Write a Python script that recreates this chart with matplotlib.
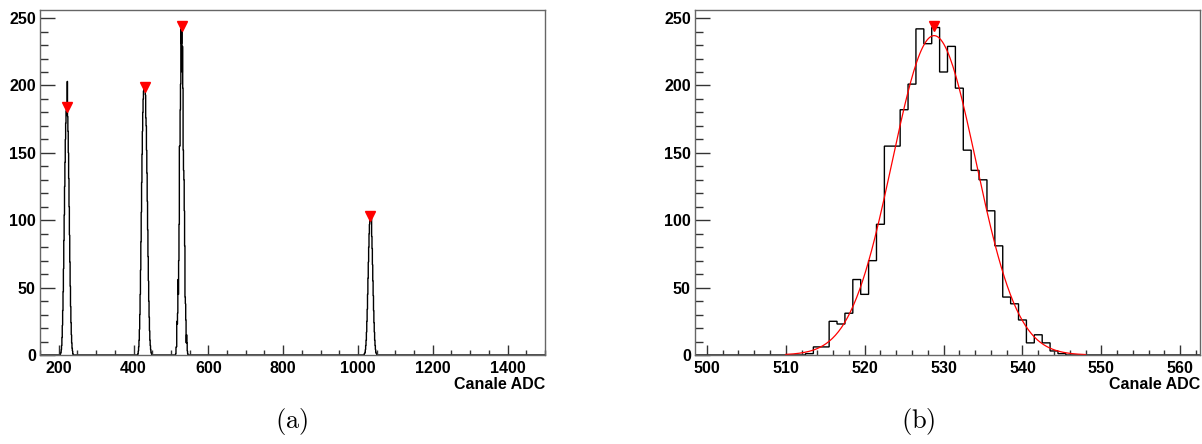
import numpy as np
import matplotlib.pyplot as plt
from matplotlib.ticker import MultipleLocator

plt.rcParams['font.family'] = ['Liberation Sans', 'DejaVu Sans']
plt.rcParams['mathtext.fontset'] = 'cm'

# spettro completo, canali da 1 ADC
spec_first = 150
spec_last = 1500

# picco 1
peak1_start = 205
peak1_counts = [1, 2, 4, 7, 13, 22, 33, 47, 64, 85, 104, 125, 143, 160, 172, 181,
                184, 178, 203, 177, 166, 150, 131, 110, 89, 69, 51, 36, 24, 15,
                9, 5, 3, 1]

# picco 2
peak2_start = 412
peak2_counts = [1, 3, 6, 11, 19, 30, 45, 63, 84, 106, 128, 149, 166, 180, 190,
                196, 199, 201, 198, 201, 193, 176, 170, 152, 135, 114, 93, 73,
                55, 40, 28, 18, 11, 7, 4, 2, 1]

# picco 3 (quello ingrandito in (b))
peak3_start = 513
peak3_counts = [1, 6, 6, 25, 23, 31, 56, 45, 70, 97, 155, 155, 182, 201, 242,
                231, 243, 210, 229, 198, 152, 137, 130, 107, 81, 43, 38, 26, 9,
                15, 9, 3, 1]

# picco 4
peak4_start = 1017
peak4_counts = [1, 1, 2, 4, 7, 11, 17, 25, 34, 45, 57, 69, 80, 90, 97, 101, 104,
                103, 99, 102, 88, 79, 67, 55, 44, 33, 24, 17, 11, 7, 4, 2, 1, 1]

# picchi trovati (TSpectrum)
peaks_x = [221, 430.5, 528.8, 1033]
peaks_y = [184, 199, 244, 103]
peak_zoom_x = [528.85]
peak_zoom_y = [244]

# fit gaussiano sul picco 3
fit_amp = 237
fit_mean = 528.8
fit_sigma = 5.3
fit_lo = 510
fit_hi = 548

counts = np.zeros(spec_last - spec_first + 1)
for start, vals in [(peak1_start, peak1_counts), (peak2_start, peak2_counts),
                    (peak3_start, peak3_counts), (peak4_start, peak4_counts)]:
    i = start - spec_first
    counts[i:i + len(vals)] = vals
edges = np.arange(spec_first - 0.5, spec_last + 1.0, 1.0)

W, H = 1202, 444
fig = plt.figure(figsize=(W / 100, H / 100), dpi=100)
ax1 = fig.add_axes([40 / W, 89 / H, 505 / W, 345 / H])
ax2 = fig.add_axes([695 / W, 89 / H, 505 / W, 345 / H])


def style(ax):
    for s in ax.spines.values():
        s.set_color('#666666')
        s.set_linewidth(1.0)
    ax.tick_params(which='both', direction='in', top=False, right=False,
                   colors='#333333', labelcolor='black', labelsize=11.5)
    ax.tick_params(axis='x', which='major', length=7.5, width=1, pad=4)
    ax.tick_params(axis='x', which='minor', length=3.75, width=1)
    ax.tick_params(axis='y', which='major', length=10.8, width=1, pad=3)
    ax.tick_params(axis='y', which='minor', length=5.4, width=1)
    for lab in ax.get_xticklabels() + ax.get_yticklabels():
        lab.set_fontweight('bold')
    ax.yaxis.set_major_locator(MultipleLocator(50))
    ax.yaxis.set_minor_locator(MultipleLocator(10))
    ax.set_ylim(0, 256)
    ax.set_xlabel('Canale ADC', loc='right', fontsize=11.5, fontweight='bold',
                  labelpad=1)


# (a) spettro completo
ax1.stairs(counts, edges, color='black', lw=1.0)
ax1.plot(peaks_x, peaks_y, 'v', color='red', markersize=6.5, clip_on=False)
ax1.set_xlim(spec_first, spec_last)
ax1.xaxis.set_major_locator(MultipleLocator(200))
ax1.xaxis.set_minor_locator(MultipleLocator(50))
style(ax1)

# (b) ingrandimento + fit
ax2.stairs(counts, edges, color='black', lw=1.0)
xf = np.linspace(fit_lo, fit_hi, 200)
ax2.plot(xf, fit_amp * np.exp(-0.5 * ((xf - fit_mean) / fit_sigma) ** 2),
         color='red', lw=0.9)
ax2.plot(peak_zoom_x, peak_zoom_y, 'v', color='red', markersize=6.5,
         clip_on=False)
ax2.set_xlim(498.5, 562.5)
ax2.xaxis.set_major_locator(MultipleLocator(10))
ax2.xaxis.set_minor_locator(MultipleLocator(2))
style(ax2)

fig.text(292 / W, 1 - 421 / H, r'$\mathrm{(a)}$', ha='center', va='center',
         fontsize=19)
fig.text(918 / W, 1 - 421 / H, r'$\mathrm{(b)}$', ha='center', va='center',
         fontsize=19)

fig.savefig('out.png', dpi=100)
